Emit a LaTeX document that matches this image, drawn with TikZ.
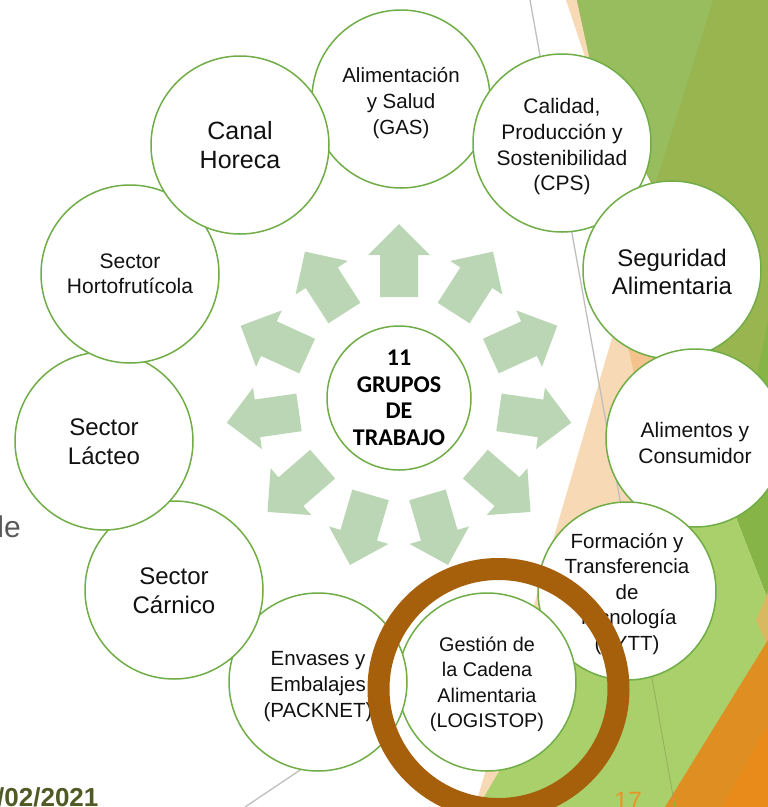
\documentclass[tikz,border=0pt]{standalone}
\usepackage{fontspec}
\setmainfont{Liberation Sans}
\newfontfamily\carlito{Carlito}
\definecolor{cgreen}{HTML}{70AD47}
\definecolor{arrowfill}{HTML}{BBD6B4}
\definecolor{peach}{HTML}{F8D9B6}
\definecolor{peachdark}{HTML}{F4C38D}
\definecolor{olive}{HTML}{99B54F}
\definecolor{topgreen}{HTML}{98BD5E}
\definecolor{midgreen}{HTML}{86B446}
\definecolor{lime}{HTML}{A9D06B}
\definecolor{tan}{HTML}{D9B862}
\definecolor{orangeA}{HTML}{DF8F22}
\definecolor{orangeB}{HTML}{E88B1A}
\definecolor{ringbrown}{HTML}{A65F0B}
\definecolor{datecol}{HTML}{4F5A24}
\definecolor{pagecol}{HTML}{E8962A}
\definecolor{linegray}{HTML}{BFBFBF}
\definecolor{degray}{HTML}{595959}
\definecolor{txt}{HTML}{111111}
\begin{document}
\begin{tikzpicture}[x=1pt,y=-1pt,
  group/.style={circle, draw=cgreen, fill=white, line width=1.5pt, minimum size=178pt, inner sep=0pt},
  gt/.style={align=center, text=txt, inner sep=0pt},
  hub/.style={circle, draw=cgreen, fill=white, line width=1.5pt, minimum size=144pt, inner sep=0pt, align=center, text=black},
  fs/.style 2 args={font=\fontsize{#1}{#2}\selectfont}]
\useasboundingbox (0,0) rectangle (768,807);
\begin{scope}
\clip (0,0) rectangle (768,807);
\fill[white] (0,0) rectangle (768,807);
% background facets
\fill[peach] (566,0) -- (578,0) -- (590,60) -- (586,60) -- cycle;
\fill[peach] (475,807) -- (664,160) -- (720,160) -- (720,807) -- cycle;
\fill[peachdark] (624,330) -- (700,300) -- (700,420) -- (645,420) -- cycle;
\draw[linegray, line width=1.3pt] (530,0) -- (647,650);
\fill[olive] (577,0) -- (768,0) -- (768,540) -- (740,480) -- (705,350) -- (652,185) -- (590,60) -- cycle;
\fill[topgreen] (577,0) -- (713,0) -- (655,185) -- (600,100) -- (590,60) -- cycle;
\fill[midgreen] (768,320) -- (768,600) -- (735,515) -- (748,420) -- cycle;
\fill[lime] (478,807) -- (660,500) -- (735,515) -- (768,600) -- (768,807) -- cycle;
\fill[tan] (768,592) -- (768,648) -- (756,620) -- cycle;
\fill[orangeA] (665,807) -- (768,640) -- (768,807) -- cycle;
\fill[orangeB] (722,807) -- (768,725) -- (768,807) -- cycle;
\draw[color=lime!85!black, line width=0.8pt] (647,650) -- (675,807);
\draw[linegray, line width=1.3pt] (245,807) -- (330,750);
% arrows
\foreach \k in {0,...,10}{
  \pgfmathsetmacro\ang{90-\k*360/11}
  \fill[arrowfill, shift={(399,398)}, rotate=\ang]
    (101,-19) -- (143,-19) -- (143,-31) -- (174,0) -- (143,31) -- (143,19) -- (101,19) -- cycle;
}
% group circles
\node[group] (gas) at (401,99) {};
\node[gt, fs={20.5}{26}] (gas-t) at ([yshift=-4pt]gas.center) {Alimentación\\y Salud\\(GAS)};
\node[group] (cps) at (562,143) {};
\node[gt, fs={21}{25.7}] (cps-t) at ([yshift=-4pt]cps.center) {Calidad,\\Producción y\\Sostenibilidad\\(CPS)};
\node[group] (seg) at (672,270) {};
\node[gt, fs={24}{28}] (seg-t) at ([yshift=-2pt]seg.center) {Seguridad\\Alimentaria};
\node[group] (ayc) at (695,438) {};
\node[gt, fs={21}{26}] (ayc-t) at ([yshift=-5pt]ayc.center) {Alimentos y\\Consumidor};
\node[group] (fytt) at (627,591) {};
\node[gt, fs={20.5}{25.5}] (fytt-t) at ([yshift=-3pt]fytt.center) {Formación y\\Transferencia\\de\\Tecnología\\(FYTT)};
\node[group] (log) at (487,682) {};
\node[gt, fs={19.8}{25.5}] (log-t) at ([yshift=-2pt]log.center) {Gestión de\\la Cadena\\Alimentaria\\(LOGISTOP)};
\node[group] (pack) at (318,682) {};
\node[gt, fs={20.5}{26}] (pack-t) at ([yshift=-5pt]pack.center) {Envases y\\Embalajes\\(PACKNET)};
\node[group] (carn) at (174,590) {};
\node[gt, fs={24}{29}] (carn-t) at ([yshift=-1pt]carn.center) {Sector\\Cárnico};
\node[group] (lact) at (104,441) {};
\node[gt, fs={24}{29}] (lact-t) at ([yshift=-1pt]lact.center) {Sector\\Lácteo};
\node[group] (horto) at (130,274) {};
\node[gt, fs={21}{25}] (horto-t) at (horto.center) {Sector\\Hortofrutícola};
\node[group] (horeca) at (240,145) {};
\node[gt, fs={25}{29}] (horeca-t) at (horeca.center) {Canal\\Horeca};
% hub
\node[hub, font=\carlito\bfseries\fontsize{24}{26.5}\selectfont] (hubn) at (399,398) {11\\GRUPOS\\DE\\TRABAJO};
% highlight ring
\node[circle, draw=ringbrown, line width=22pt, minimum size=240pt, inner sep=0pt] (ring) at (498.5,689) {};
% slide texts
\node[anchor=base east, inner sep=0pt, text=degray, font=\fontsize{30}{36}\selectfont] (de) at (21,537) {de};
\node[anchor=base west, inner sep=0pt, text=datecol, font=\bfseries\fontsize{26}{30}\selectfont] (date) at (-3,806) {/02/2021};
\node[anchor=base west, inner sep=0pt, text=pagecol, font=\fontsize{25}{30}\selectfont] (page) at (614,809) {17};
\end{scope}
\end{tikzpicture}
\end{document}
